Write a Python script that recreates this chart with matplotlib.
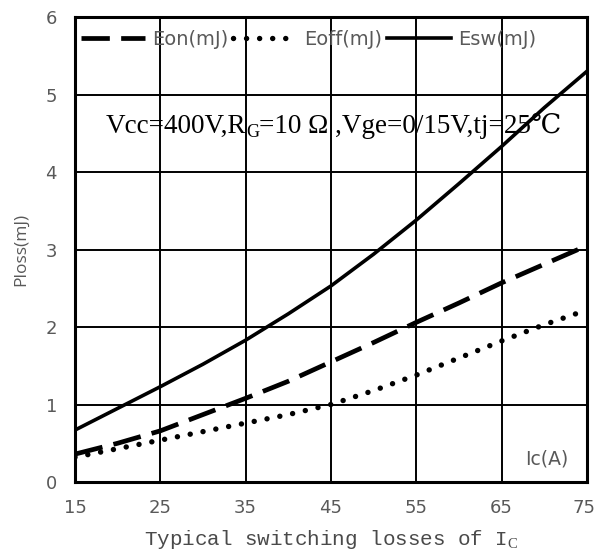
import matplotlib
matplotlib.use('Agg')
import matplotlib.pyplot as plt
import matplotlib.transforms as mtransforms

# data
ic = [15, 20, 25, 30, 35, 40, 45, 50, 55, 60, 65, 70, 75]
eon = [0.36, 0.50, 0.66, 0.87, 1.08, 1.30, 1.55, 1.80, 2.06, 2.31, 2.57, 2.81, 3.05]
eoff = [0.32, 0.43, 0.54, 0.65, 0.76, 0.87, 1.00, 1.18, 1.38, 1.60, 1.82, 2.03, 2.22]
esw = [0.67, 0.95, 1.23, 1.52, 1.83, 2.17, 2.53, 2.94, 3.38, 3.85, 4.33, 4.83, 5.30]
xticks = [15, 25, 35, 45, 55, 65, 75]
yticks = [0, 1, 2, 3, 4, 5, 6]

gray = '#595959'
plt.rcParams['mathtext.fontset'] = 'custom'
plt.rcParams['mathtext.rm'] = 'Liberation Serif'

fig = plt.figure(figsize=(5.97, 5.52), dpi=100)
ax = fig.add_axes([0.1256, 0.1268, 0.8576, 0.8424])

ax.plot(ic, eon, color='black', lw=3.4, dashes=(6, 2.4), label='Eon(mJ)')
ax.plot(ic, eoff, color='black', lw=3.9, dashes=(0.01, 2.4), dash_capstyle='round',
        label='Eoff(mJ)')
ax.plot(ic, esw, color='black', lw=2.6, label='Esw(mJ)')

ax.set_xlim(15, 75)
ax.set_ylim(0, 6)
ax.set_xticks(xticks)
ax.set_yticks(yticks)
ax.grid(True, color='black', lw=1.4)
for s in ax.spines.values():
    s.set_linewidth(2.2)
ax.tick_params(length=0, labelsize=13, labelcolor=gray)
ax.tick_params(axis='x', pad=12)
ax.tick_params(axis='y', pad=13)

# last x tick label sits right at the figure edge, pull it in a little
last = ax.get_xticklabels()[-1]
last.set_transform(last.get_transform() +
                   mtransforms.ScaledTranslation(-3 / 100, 0, fig.dpi_scale_trans))

ax.set_ylabel('Ploss(mJ)', fontsize=12.5, color=gray, family='Open Sans', labelpad=12)
ax.set_xlabel('Typical switching losses of I$_\\mathrm{C}$', fontsize=15,
              color='#4a4a4a', family='Liberation Mono', labelpad=8)

leg = ax.legend(loc='center left', ncol=3, frameon=False, handlelength=3.3,
                columnspacing=0.25, handletextpad=0.35, borderpad=0,
                borderaxespad=0, bbox_to_anchor=(0.012, 0.951),
                prop={'size': 14})
for t in leg.get_texts():
    t.set_color(gray)

# condition text, built from pieces so the subscript and the degree sign work
serif = ['Liberation Serif', 'DejaVu Serif']
t1 = ax.text(0.06, 0.7505, 'Vcc=400V,R', transform=ax.transAxes, ha='left',
             va='baseline', fontsize=19.5, family=serif)
t2 = ax.annotate('G', xy=(1, 0), xycoords=t1, xytext=(0, -1.5),
                 textcoords='offset points', ha='left', va='bottom',
                 fontsize=13, family=serif)
t3 = ax.annotate('=10 \u03a9 ,Vge=0/15V,tj=25\u2103', xy=(1, 0), xycoords=(t2, t1),
                 ha='left', va='bottom', fontsize=19.5, family=serif)

ax.text(0.963, 0.03, 'Ic(A)', transform=ax.transAxes, ha='right', va='bottom',
        fontsize=13.5, color=gray)

fig.savefig('out.png', dpi=100)
